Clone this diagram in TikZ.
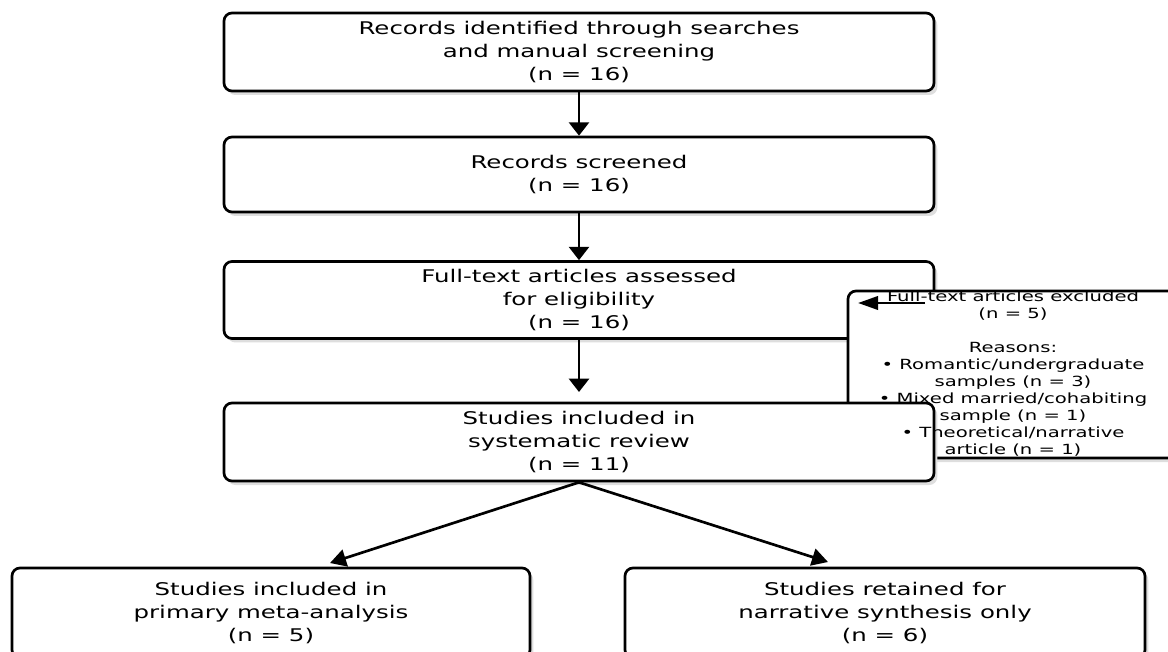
\documentclass[tikz,border=0pt]{standalone}
\usepackage{fontspec}
\setmainfont[FakeStretch=1.4]{DejaVu Sans}
\usetikzlibrary{shadows,arrows.meta}
\newcommand{\mainsz}{\fontsize{13.1}{16.9}\selectfont}
\newcommand{\exclsz}{\fontsize{10.5}{12.75}\selectfont}
\begin{document}
\begin{tikzpicture}[x=0.75pt,y=-0.75pt,
  box/.style={draw=black, line width=2pt, rounded corners=6pt, fill=white,
    drop shadow={shadow xshift=2.5pt, shadow yshift=-3pt, fill=black!13, opacity=1},
    align=center, inner sep=0pt, font=\mainsz},
  varr/.style={line width=2pt, -{Triangle[length=10pt,width=15pt]}},
  harr/.style={line width=2pt, -{Triangle[length=15pt,width=10pt]}},
  darr/.style={line width=2pt, -{Triangle[length=12pt,width=13pt]}},
]
\useasboundingbox (0,0) rectangle (1168,652);

\node[box, minimum width=532.5pt, minimum height=58.5pt] (b1) at (579,52)
  {Records identified through searches\\and manual screening\\(n = 16)};
\node[box, minimum width=532.5pt, minimum height=56.25pt] (b2) at (579,174.5)
  {Records screened\\(n = 16)};
\node[box, minimum width=532.5pt, minimum height=57.75pt] (b3) at (579,300)
  {Full-text articles assessed\\for eligibility\\(n = 16)};
\node[box, minimum width=249pt, minimum height=125.25pt] (ex) at (1014,374.5) {};
\coordinate (e1) at (925,303);
\coordinate (e2) at (858,303);
\draw[harr] (e1) -- (e2);
\node[box, minimum width=532.5pt, minimum height=58.5pt] (b4) at (579,442)
  {Studies included in\\systematic review\\(n = 11)};
\node[box, minimum width=388.5pt, minimum height=67.5pt] (b5) at (271,613)
  {Studies included in\\primary meta-analysis\\(n = 5)};
\node[box, minimum width=390pt, minimum height=67.5pt] (b6) at (885,613)
  {Studies retained for\\narrative synthesis only\\(n = 6)};

\node[align=center, font=\exclsz, inner sep=0pt] (ext) at (1013,373.5)
  {Full-text articles excluded\\(n = 5)\\\mbox{}\\Reasons:\\• Romantic/undergraduate\\samples (n = 3)\\• Mixed married/cohabiting\\sample (n = 1)\\• Theoretical/narrative\\article (n = 1)};

\coordinate (t34) at (579,392);
\coordinate (t5) at (330,563);
\coordinate (t6) at (828,562);
\draw[varr] (b1.south) -- (b2.north);
\draw[varr] (b2.south) -- (b3.north);
\draw[varr] (b3.south) -- (t34);
\draw[darr] (b4.south) -- (t5);
\draw[darr] (b4.south) -- (t6);
\end{tikzpicture}
\end{document}
